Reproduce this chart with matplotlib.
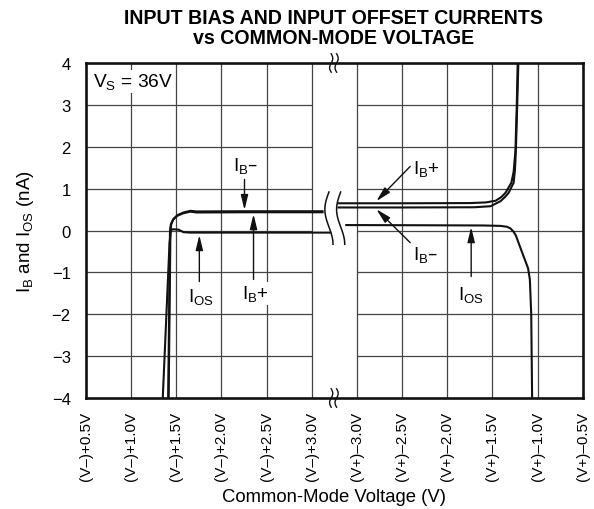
import numpy as np
import matplotlib
matplotlib.use('Agg')
import matplotlib.pyplot as plt

plt.rcParams['font.family'] = ['Liberation Sans', 'DejaVu Sans']
plt.rcParams['mathtext.default'] = 'regular'

# ---------------- data ----------------
# x axis uses tick-index units: 0 = (V-)+0.5V ... 5 = (V-)+3.0V | break | 6 = (V+)-3.0V ... 11 = (V+)-0.5V
x_tick_labels = ['(V–)+0.5V', '(V–)+1.0V', '(V–)+1.5V', '(V–)+2.0V', '(V–)+2.5V', '(V–)+3.0V',
                 '(V+)–3.0V', '(V+)–2.5V', '(V+)–2.0V', '(V+)–1.5V', '(V+)–1.0V', '(V+)–0.5V']
y_ticks = [-4, -3, -2, -1, 0, 1, 2, 3, 4]

# left (negative-rail) segment
ib_plus_left_x = [1.82, 1.84, 1.86, 1.88, 1.93, 2.02, 2.15, 2.31, 2.45, 3.5, 5.26]
ib_plus_left_y = [-4.0, -2.0, 0.0, 0.15, 0.26, 0.35, 0.41, 0.45, 0.43, 0.435, 0.435]
ib_minus_left_x = [1.83, 1.85, 1.87, 1.89, 1.94, 2.03, 2.16, 2.31, 2.45, 3.5, 5.26]
ib_minus_left_y = [-4.0, -2.0, 0.0, 0.16, 0.28, 0.37, 0.43, 0.47, 0.455, 0.46, 0.46]
ios_left_x = [1.70, 1.85, 1.88, 1.92, 2.05, 2.16, 2.30, 5.43]
ios_left_y = [-4.0, -0.3, 0.0, 0.03, 0.02, -0.04, -0.05, -0.05]

# right (positive-rail) segment
ib_plus_right_x = [5.57, 7.0, 8.5, 8.85, 9.07, 9.20, 9.29, 9.42, 9.47, 9.51, 9.54, 9.56]
ib_plus_right_y = [0.65, 0.65, 0.655, 0.67, 0.71, 0.80, 0.90, 1.14, 1.40, 1.90, 3.0, 4.0]
ib_minus_right_x = [5.57, 7.0, 8.6, 8.96, 9.18, 9.28, 9.36, 9.47, 9.50, 9.52, 9.55, 9.575]
ib_minus_right_y = [0.55, 0.55, 0.555, 0.58, 0.70, 0.80, 0.90, 1.14, 1.45, 1.90, 3.0, 4.0]
ios_right_x = [5.74, 7.5, 8.8, 9.18, 9.32, 9.40, 9.47, 9.52, 9.65, 9.79, 9.83, 9.86, 9.88]
ios_right_y = [0.13, 0.125, 0.12, 0.11, 0.09, 0.05, -0.03, -0.12, -0.5, -0.9, -1.17, -2.0, -4.0]

BREAK = 5.5  # middle of the axis break

# ---------------- figure ----------------
fig = plt.figure(figsize=(5.94, 5.10), dpi=100)
ax = fig.add_axes([86/594, 111/510, 496.7/594, 335/510])
ax.set_xlim(0, 11)
ax.set_ylim(-4, 4)

grid_kw = dict(color='#444444', lw=0.9, zorder=1)
ax.vlines(range(1, 11), -4, 4, **grid_kw)
for yv in y_ticks[1:-1]:
    ax.hlines(yv, 0, 5, **grid_kw)
    ax.hlines(yv, 6, 11, **grid_kw)

line_kw = dict(color='#111111', lw=1.5, solid_capstyle='butt', solid_joinstyle='round', zorder=3)
ax.plot(ib_plus_left_x, ib_plus_left_y, **line_kw)
ax.plot(ib_minus_left_x, ib_minus_left_y, **line_kw)
ax.plot(ios_left_x, ios_left_y, **line_kw)
ax.plot(ib_plus_right_x, ib_plus_right_y, **line_kw)
ax.plot(ib_minus_right_x, ib_minus_right_y, **line_kw)
ax.plot(ios_right_x, ios_right_y, **line_kw)

# break marks across the curves
t = np.linspace(0, 1, 60)
for x0 in (BREAK - 0.12, BREAK + 0.14):
    xs = x0 - 0.09 * np.sin(1.5 * np.pi * t)
    ys = 0.92 - 1.25 * t
    ax.plot(xs, ys, color='#111111', lw=1.1, zorder=4)

# break marks on the top/bottom spines
for yc in (4, -4):
    for x0 in (BREAK - 0.07, BREAK + 0.05):
        xs = x0 + 0.035 * np.sin(2 * np.pi * t)
        ys = yc + 0.22 - 0.44 * t
        ax.plot(xs, ys, color='#111111', lw=1.0, zorder=6, clip_on=False)

for s in ax.spines.values():
    s.set_linewidth(1.9)
    s.set_color('#111111')
    s.set_zorder(5)

ax.set_xticks(range(len(x_tick_labels)))
ax.set_xticklabels(x_tick_labels, rotation=90, fontsize=11)
ax.set_yticks(y_ticks)
ax.set_yticklabels([str(v).replace('-', '−') for v in y_ticks], fontsize=12)
ax.tick_params(axis='both', length=0)
ax.tick_params(axis='x', pad=9)
ax.tick_params(axis='y', pad=11)

ax.set_xlabel('Common-Mode Voltage (V)', fontsize=13.3, labelpad=6)
ax.set_ylabel('I$_B$ and I$_{OS}$ (nA)', fontsize=13.5, labelpad=11)

fig.text(334/594, 1 - 19/510, 'INPUT BIAS AND INPUT OFFSET CURRENTS', ha='center', va='center',
         fontsize=14.1, fontweight='bold')
fig.text(334/594, 1 - 38/510, 'vs COMMON-MODE VOLTAGE', ha='center', va='center',
         fontsize=14.1, fontweight='bold')

box = dict(facecolor='white', edgecolor='none', pad=1.0)
ax.text(0.15, 3.44, 'V$_S$ = 36V', ha='left', va='baseline', fontsize=13.8, bbox=box, zorder=4)

arrow_kw = dict(arrowstyle='-|>,head_length=0.9,head_width=0.22', color='#111111', lw=1.0,
                shrinkA=0, shrinkB=0)

def label(text, tx, ty, tail, tip, ha='center'):
    ax.text(tx, ty, text, ha=ha, va='center', fontsize=13.5, bbox=box, zorder=4)
    ax.annotate('', xy=tip, xytext=tail, arrowprops=arrow_kw, zorder=4)

label('I$_B$–', 3.53, 1.56, (3.51, 1.22), (3.51, 0.49))
label('I$_B$+', 3.75, -1.50, (3.71, -1.17), (3.71, 0.39))
label('I$_{OS}$', 2.55, -1.57, (2.51, -1.22), (2.51, -0.11))
label('I$_B$+', 7.25, 1.50, (7.18, 1.53), (6.43, 0.70), ha='left')
label('I$_B$–', 7.25, -0.55, (7.18, -0.29), (6.43, 0.51), ha='left')
label('I$_{OS}$', 8.53, -1.52, (8.53, -1.10), (8.53, 0.08))

fig.savefig('out.png', dpi=100)
